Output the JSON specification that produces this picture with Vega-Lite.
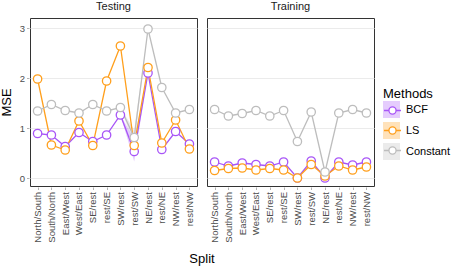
{
  "$schema": "https://vega.github.io/schema/vega-lite/v6.json",
  "padding": {"left": 0, "top": 1, "right": 4, "bottom": 0},
  "config": {
    "font": "Liberation Sans",
    "view": {"stroke": "#333333", "strokeWidth": 1},
    "axis": {"gridColor": "#EBEBEB", "gridWidth": 1, "domain": false, "labelColor": "#4D4D4D", "labelFontSize": 9.5, "tickColor": "#B3B3B3", "tickSize": 2.5, "titleFontWeight": "normal", "titleColor": "#000000", "titleFontSize": 13},
    "legend": {"titleFontWeight": "normal", "titleFontSize": 13, "labelFontSize": 11, "titleColor": "#000000", "labelColor": "#000000"}
  },
  "data": {"values": [
    {"Setting":"Testing","Method":"BCF","Split":"North/South","MSE":0.89,"lo":0.89,"hi":0.89},
    {"Setting":"Testing","Method":"BCF","Split":"South/North","MSE":0.86,"lo":0.86,"hi":0.86},
    {"Setting":"Testing","Method":"BCF","Split":"East/West","MSE":0.63,"lo":0.63,"hi":0.63},
    {"Setting":"Testing","Method":"BCF","Split":"West/East","MSE":0.91,"lo":0.91,"hi":0.91},
    {"Setting":"Testing","Method":"BCF","Split":"SE/rest","MSE":0.73,"lo":0.73,"hi":0.73},
    {"Setting":"Testing","Method":"BCF","Split":"rest/SE","MSE":0.86,"lo":0.86,"hi":0.86},
    {"Setting":"Testing","Method":"BCF","Split":"SW/rest","MSE":1.26,"lo":1.26,"hi":1.26},
    {"Setting":"Testing","Method":"BCF","Split":"rest/SW","MSE":0.53,"lo":0.33,"hi":0.78},
    {"Setting":"Testing","Method":"BCF","Split":"NE/rest","MSE":2.10,"lo":2.10,"hi":2.10},
    {"Setting":"Testing","Method":"BCF","Split":"rest/NE","MSE":0.57,"lo":0.57,"hi":0.57},
    {"Setting":"Testing","Method":"BCF","Split":"NW/rest","MSE":0.93,"lo":0.93,"hi":0.93},
    {"Setting":"Testing","Method":"BCF","Split":"rest/NW","MSE":0.68,"lo":0.68,"hi":0.68},
    {"Setting":"Testing","Method":"LS","Split":"North/South","MSE":1.98,"lo":1.98,"hi":1.98},
    {"Setting":"Testing","Method":"LS","Split":"South/North","MSE":0.66,"lo":0.66,"hi":0.66},
    {"Setting":"Testing","Method":"LS","Split":"East/West","MSE":0.56,"lo":0.56,"hi":0.56},
    {"Setting":"Testing","Method":"LS","Split":"West/East","MSE":1.14,"lo":1.14,"hi":1.14},
    {"Setting":"Testing","Method":"LS","Split":"SE/rest","MSE":0.65,"lo":0.65,"hi":0.65},
    {"Setting":"Testing","Method":"LS","Split":"rest/SE","MSE":1.94,"lo":1.94,"hi":1.94},
    {"Setting":"Testing","Method":"LS","Split":"SW/rest","MSE":2.64,"lo":2.64,"hi":2.64},
    {"Setting":"Testing","Method":"LS","Split":"rest/SW","MSE":0.65,"lo":0.65,"hi":0.65},
    {"Setting":"Testing","Method":"LS","Split":"NE/rest","MSE":2.21,"lo":2.21,"hi":2.21},
    {"Setting":"Testing","Method":"LS","Split":"rest/NE","MSE":0.70,"lo":0.70,"hi":0.70},
    {"Setting":"Testing","Method":"LS","Split":"NW/rest","MSE":1.16,"lo":1.16,"hi":1.16},
    {"Setting":"Testing","Method":"LS","Split":"rest/NW","MSE":0.58,"lo":0.58,"hi":0.58},
    {"Setting":"Testing","Method":"Constant","Split":"North/South","MSE":1.34,"lo":1.34,"hi":1.34},
    {"Setting":"Testing","Method":"Constant","Split":"South/North","MSE":1.47,"lo":1.47,"hi":1.47},
    {"Setting":"Testing","Method":"Constant","Split":"East/West","MSE":1.35,"lo":1.35,"hi":1.35},
    {"Setting":"Testing","Method":"Constant","Split":"West/East","MSE":1.30,"lo":1.30,"hi":1.30},
    {"Setting":"Testing","Method":"Constant","Split":"SE/rest","MSE":1.47,"lo":1.47,"hi":1.47},
    {"Setting":"Testing","Method":"Constant","Split":"rest/SE","MSE":1.34,"lo":1.34,"hi":1.34},
    {"Setting":"Testing","Method":"Constant","Split":"SW/rest","MSE":1.41,"lo":1.41,"hi":1.41},
    {"Setting":"Testing","Method":"Constant","Split":"rest/SW","MSE":0.81,"lo":0.66,"hi":0.96},
    {"Setting":"Testing","Method":"Constant","Split":"NE/rest","MSE":2.98,"lo":2.98,"hi":2.98},
    {"Setting":"Testing","Method":"Constant","Split":"rest/NE","MSE":1.81,"lo":1.81,"hi":1.81},
    {"Setting":"Testing","Method":"Constant","Split":"NW/rest","MSE":1.30,"lo":1.30,"hi":1.30},
    {"Setting":"Testing","Method":"Constant","Split":"rest/NW","MSE":1.37,"lo":1.37,"hi":1.37},
    {"Setting":"Training","Method":"BCF","Split":"North/South","MSE":0.32,"lo":0.32,"hi":0.32},
    {"Setting":"Training","Method":"BCF","Split":"South/North","MSE":0.24,"lo":0.24,"hi":0.24},
    {"Setting":"Training","Method":"BCF","Split":"East/West","MSE":0.30,"lo":0.30,"hi":0.30},
    {"Setting":"Training","Method":"BCF","Split":"West/East","MSE":0.27,"lo":0.27,"hi":0.27},
    {"Setting":"Training","Method":"BCF","Split":"SE/rest","MSE":0.24,"lo":0.24,"hi":0.24},
    {"Setting":"Training","Method":"BCF","Split":"rest/SE","MSE":0.32,"lo":0.32,"hi":0.32},
    {"Setting":"Training","Method":"BCF","Split":"SW/rest","MSE":0.0,"lo":0.0,"hi":0.0},
    {"Setting":"Training","Method":"BCF","Split":"rest/SW","MSE":0.34,"lo":0.34,"hi":0.34},
    {"Setting":"Training","Method":"BCF","Split":"NE/rest","MSE":0.0,"lo":0.0,"hi":0.0},
    {"Setting":"Training","Method":"BCF","Split":"rest/NE","MSE":0.32,"lo":0.32,"hi":0.32},
    {"Setting":"Training","Method":"BCF","Split":"NW/rest","MSE":0.26,"lo":0.26,"hi":0.26},
    {"Setting":"Training","Method":"BCF","Split":"rest/NW","MSE":0.32,"lo":0.32,"hi":0.32},
    {"Setting":"Training","Method":"LS","Split":"North/South","MSE":0.15,"lo":0.15,"hi":0.15},
    {"Setting":"Training","Method":"LS","Split":"South/North","MSE":0.19,"lo":0.19,"hi":0.19},
    {"Setting":"Training","Method":"LS","Split":"East/West","MSE":0.20,"lo":0.20,"hi":0.20},
    {"Setting":"Training","Method":"LS","Split":"West/East","MSE":0.16,"lo":0.16,"hi":0.16},
    {"Setting":"Training","Method":"LS","Split":"SE/rest","MSE":0.19,"lo":0.19,"hi":0.19},
    {"Setting":"Training","Method":"LS","Split":"rest/SE","MSE":0.16,"lo":0.16,"hi":0.16},
    {"Setting":"Training","Method":"LS","Split":"SW/rest","MSE":0.0,"lo":0.0,"hi":0.0},
    {"Setting":"Training","Method":"LS","Split":"rest/SW","MSE":0.27,"lo":0.27,"hi":0.27},
    {"Setting":"Training","Method":"LS","Split":"NE/rest","MSE":0.04,"lo":0.04,"hi":0.04},
    {"Setting":"Training","Method":"LS","Split":"rest/NE","MSE":0.24,"lo":0.24,"hi":0.24},
    {"Setting":"Training","Method":"LS","Split":"NW/rest","MSE":0.16,"lo":0.16,"hi":0.16},
    {"Setting":"Training","Method":"LS","Split":"rest/NW","MSE":0.22,"lo":0.22,"hi":0.22},
    {"Setting":"Training","Method":"Constant","Split":"North/South","MSE":1.37,"lo":1.37,"hi":1.37},
    {"Setting":"Training","Method":"Constant","Split":"South/North","MSE":1.24,"lo":1.24,"hi":1.24},
    {"Setting":"Training","Method":"Constant","Split":"East/West","MSE":1.29,"lo":1.29,"hi":1.29},
    {"Setting":"Training","Method":"Constant","Split":"West/East","MSE":1.35,"lo":1.35,"hi":1.35},
    {"Setting":"Training","Method":"Constant","Split":"SE/rest","MSE":1.24,"lo":1.24,"hi":1.24},
    {"Setting":"Training","Method":"Constant","Split":"rest/SE","MSE":1.35,"lo":1.35,"hi":1.35},
    {"Setting":"Training","Method":"Constant","Split":"SW/rest","MSE":0.73,"lo":0.73,"hi":0.73},
    {"Setting":"Training","Method":"Constant","Split":"rest/SW","MSE":1.32,"lo":1.32,"hi":1.32},
    {"Setting":"Training","Method":"Constant","Split":"NE/rest","MSE":0.12,"lo":0.12,"hi":0.12},
    {"Setting":"Training","Method":"Constant","Split":"rest/NE","MSE":1.30,"lo":1.30,"hi":1.30},
    {"Setting":"Training","Method":"Constant","Split":"NW/rest","MSE":1.37,"lo":1.37,"hi":1.37},
    {"Setting":"Training","Method":"Constant","Split":"rest/NW","MSE":1.30,"lo":1.30,"hi":1.30}
  ]},
  "facet": {
    "column": {
      "field": "Setting", "type": "nominal", "title": "Split",
      "header": {"labelOrient": "top", "titleOrient": "bottom", "labelFontSize": 11, "labelColor": "#1A1A1A", "labelPadding": 5, "titleFontSize": 13, "titleFontWeight": "normal", "titleColor": "#000000", "titlePadding": 0}
    }
  },
  "spacing": 8,
  "spec": {
    "width": 167,
    "height": 168,
    "encoding": {
      "x": {"field": "Split", "type": "nominal", "title": null,
            "sort": ["North/South","South/North","East/West","West/East","SE/rest","rest/SE","SW/rest","rest/SW","NE/rest","rest/NE","NW/rest","rest/NW"],
            "scale": {"type": "point", "padding": 0.55},
            "axis": {"labelAngle": -90, "labelPadding": 2}}
    },
    "layer": [
      {
        "mark": {"type": "area", "opacity": 0.3},
        "encoding": {
          "y": {"field": "lo", "type": "quantitative"},
          "y2": {"field": "hi"},
          "fill": {"field": "Method", "type": "nominal", "title": "Methods",
                   "scale": {"domain": ["BCF","LS","Constant","zz"], "range": ["#A855F7","#FF9F1C","#BDBDBD","#BDBDBD"]},
                   "legend": {"values": ["BCF","LS","Constant"], "orient": "none", "legendX": 353, "legendY": 70, "symbolType": "square", "symbolSize": 289, "symbolOpacity": 0.3, "symbolStrokeWidth": 0, "rowPadding": 4, "labelOffset": 6, "titlePadding": 0}}
        }
      },
      {
        "mark": {"type": "line", "strokeWidth": 1.3},
        "encoding": {
          "y": {"field": "MSE", "type": "quantitative", "title": "MSE",
                "scale": {"domain": [-0.16, 3.2], "nice": false, "zero": false},
                "axis": {"values": [0, 0.5, 1, 1.5, 2, 2.5, 3], "format": ".0f", "labelExpr": "datum.value % 1 == 0 ? datum.label : ''", "titlePadding": 6}},
          "stroke": {"field": "Method", "type": "nominal", "title": " ",
                     "scale": {"domain": ["BCF","LS","Constant"], "range": ["#A855F7","#FF9F1C","#BDBDBD"]},
                     "legend": {"orient": "none", "legendX": 353, "legendY": 70, "labelExpr": "''", "symbolType": "M-1,0L-0.42,0M0.42,0L1,0M0.42,0A0.42,0.42,0,1,1,-0.42,0A0.42,0.42,0,1,1,0.42,0Z", "symbolFillColor": "white", "symbolSize": 289, "symbolStrokeWidth": 1.3, "symbolOpacity": 1, "rowPadding": 4, "labelOffset": 6, "titlePadding": 0}}
        }
      },
      {
        "mark": {"type": "point", "shape": "circle", "filled": false, "fill": "white", "fillOpacity": 1, "strokeWidth": 1.3, "size": 70, "opacity": 1},
        "encoding": {
          "y": {"field": "MSE", "type": "quantitative"},
          "stroke": {"field": "Method", "type": "nominal"}
        }
      }
    ]
  }
}
